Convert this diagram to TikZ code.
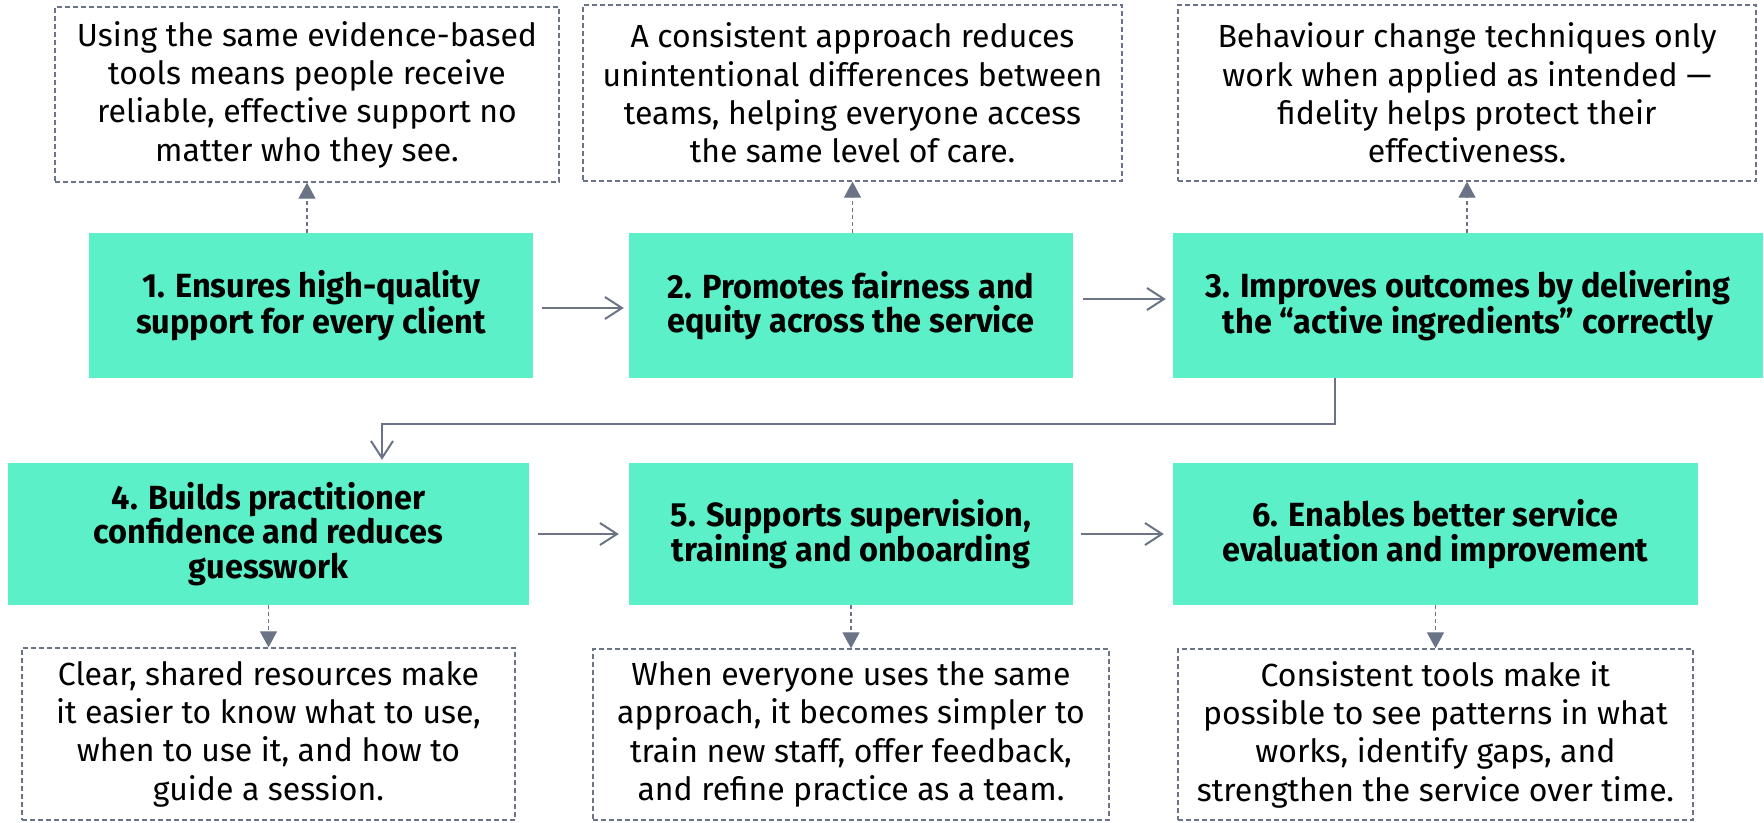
\documentclass[tikz,border=0pt]{standalone}
\usepackage{fontspec}
\setmainfont{Fira Sans}
\newfontfamily\headfont{Fira Sans}[FakeStretch=0.97]
\usetikzlibrary{arrows.meta}
\definecolor{mint}{RGB}{92,240,200}
\definecolor{slate}{RGB}{107,116,135}
\begin{document}
\begin{tikzpicture}[x=1pt,y=-1pt,
  note/.style={draw=slate, line width=1.3pt, dash pattern=on 5pt off 3pt, fill=white,
    align=center, inner sep=0pt, text=black, font=\fontsize{32}{38.3}\selectfont},
  stage/.style={fill=mint, align=center, inner sep=0pt, text=black,
    font=\headfont\bfseries\fontsize{33.5}{34.5}\selectfont},
  flow/.style={draw=slate, line width=2pt, -{Straight Barb[length=17pt,width=22pt,line width=2pt]}},
  link/.style={draw=slate, line width=1.2pt, dash pattern=on 4pt off 3pt, -{Triangle[length=16pt,width=17pt]}}]
\useasboundingbox (0,0) rectangle (1764,822);

% top notes
\node[note, minimum width=504pt, minimum height=175pt] (t1) at (307,94.5)
  {Using the same evidence-based\\tools means people receive\\reliable, effective support no\\matter who they see.};
\node[note, minimum width=539pt, minimum height=176pt] (t2) at (852.5,93)
  {A consistent approach reduces\\unintentional differences between\\teams, helping everyone access\\the same level of care.};
\node[note, minimum width=578pt, minimum height=176pt] (t3) at (1467,93)
  {Behaviour change techniques only\\work when applied as intended —\\fidelity helps protect their\\effectiveness.};

% stages row 1
\node[stage, minimum width=444pt, minimum height=145pt] (g1) at (311,305.5)
  {1. Ensures high-quality\\support for every client};
\node[stage, minimum width=444pt, minimum height=145pt] (g2) at (851,305.5)
  {2. Promotes fairness and\\equity across the service};
\node[stage, minimum width=590pt, minimum height=145pt] (g3) at (1468,305.5)
  {3. Improves outcomes by delivering\\the “active ingredients” correctly};

% stages row 2
\node[stage, minimum width=521pt, minimum height=142pt] (g4) at (268.5,534)
  {4. Builds practitioner\\confidence and reduces\\guesswork};
\node[stage, minimum width=444pt, minimum height=142pt] (g5) at (851,534)
  {5. Supports supervision,\\training and onboarding};
\node[stage, minimum width=525pt, minimum height=142pt] (g6) at (1435.5,534)
  {6. Enables better service\\evaluation and improvement};

% bottom notes
\node[note, minimum width=493pt, minimum height=172pt] (b4) at (268.5,734)
  {Clear, shared resources make\\it easier to know what to use,\\when to use it, and how to\\guide a session.};
\node[note, minimum width=516pt, minimum height=171pt] (b5) at (851,734.5)
  {When everyone uses the same\\approach, it becomes simpler to\\train new staff, offer feedback,\\and refine practice as a team.};
\node[note, minimum width=515pt, minimum height=171pt] (b6) at (1435.5,734.5)
  {Consistent tools make it\\possible to see patterns in what\\works, identify gaps, and\\strengthen the service over time.};

% flow arrows
\draw[flow, shorten <=9pt, shorten >=5pt] ([yshift=-2.5pt]g1.east) -- ([yshift=-2.5pt]g2.west);
\draw[flow, shorten <=10pt, shorten >=7pt] ([yshift=6.5pt]g2.east) -- ([yshift=6.5pt]g3.west);
\draw[flow, shorten <=9pt, shorten >=10pt] (g4.east) -- (g5.west);
\draw[flow, shorten <=8pt, shorten >=9pt] (g5.east) -- (g6.west);

\coordinate (e1) at (1335,424);
\coordinate (e2) at (382,424);
\draw[flow, shorten >=3pt] (g3.south -| e1) -- (e1) -- (e2) -- (e2 |- g4.north);

% dashed links
\draw[link] (t1.south |- g1.north) -- (t1.south);
\draw[link] (t2.south |- g2.north) -- (t2.south);
\draw[link] (t3.south |- g3.north) -- (t3.south);
\draw[link] (b4.north |- g4.south) -- (b4.north);
\draw[link] (b5.north |- g5.south) -- (b5.north);
\draw[link] (b6.north |- g6.south) -- (b6.north);
\end{tikzpicture}
\end{document}
